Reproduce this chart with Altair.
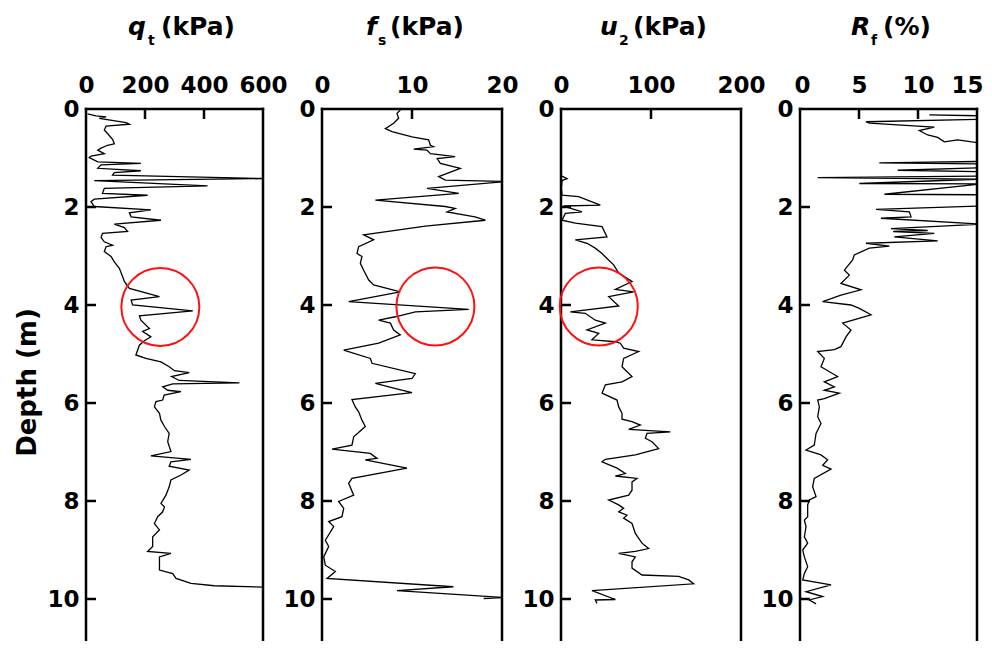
import altair as alt
import pandas as pd

FONT = "DejaVu Sans"
H = 532            # plot height (px)
PX_PER_M = 49.0
DMAX = H / PX_PER_M

# ---------------- data ----------------
qt_depth = [0.10, 0.14, 0.16, 0.19, 0.28, 0.31, 0.35, 0.43, 0.50, 0.62,
            0.71, 0.74, 0.80, 0.84, 0.91, 0.96, 0.99, 1.08, 1.11, 1.14,
            1.21, 1.26, 1.30, 1.35, 1.42, 1.46, 1.57, 1.62, 1.72, 1.76,
            1.84, 1.89, 1.99, 2.06, 2.12, 2.20, 2.27, 2.35, 2.42, 2.50,
            2.54, 2.62, 2.71, 2.78, 2.81, 2.91, 3.01, 3.12, 3.25, 3.42,
            3.52, 3.66, 3.83, 3.90, 4.00, 4.12, 4.22, 4.31, 4.48, 4.54,
            4.65, 4.73, 4.82, 5.02, 5.09, 5.16, 5.26, 5.34, 5.38, 5.46,
            5.54, 5.59, 5.61, 5.67, 5.74, 5.77, 5.84, 5.94, 5.97, 6.08,
            6.21, 6.35, 6.48, 6.62, 6.79, 6.99, 7.08, 7.15, 7.20, 7.29,
            7.37, 7.47, 7.57, 7.71, 7.88, 8.05, 8.12, 8.22, 8.32, 8.46,
            8.59, 8.73, 8.93, 9.03, 9.07, 9.14, 9.41, 9.48, 9.58, 9.68,
            9.73, 9.76]
qt_value = [5, 34, 68, 45, 136, 147, 68, 62, 73, 90,
            96, 73, 51, 40, 62, 17, 11, 40, 186, 51,
            40, 186, 96, 90, 615, 28, 412, 62, 56, 209,
            28, 17, 28, 220, 147, 153, 254, 96, 130, 141,
            56, 51, 62, 90, 68, 62, 85, 96, 113, 124,
            130, 147, 249, 153, 158, 362, 181, 186, 215, 192,
            220, 198, 181, 169, 203, 254, 282, 300, 350, 290,
            316, 520, 294, 260, 277, 322, 265, 260, 237, 232,
            249, 254, 266, 282, 277, 288, 220, 356, 288, 282,
            350, 322, 288, 282, 271, 254, 266, 260, 243, 232,
            249, 226, 226, 209, 288, 249, 249, 294, 305, 356,
            435, 610]

fs_depth = [0.02, 0.09, 0.19, 0.29, 0.40, 0.46, 0.57, 0.63, 0.74, 0.77,
            0.82, 0.84, 0.91, 0.97, 1.01, 1.11, 1.21, 1.38, 1.45, 1.48,
            1.62, 1.72, 1.86, 1.99, 2.03, 2.10, 2.20, 2.27, 2.39, 2.57,
            2.67, 2.81, 2.95, 3.01, 3.15, 3.29, 3.49, 3.59, 3.73, 3.93,
            4.09, 4.14, 4.24, 4.31, 4.37, 4.51, 4.61, 4.78, 4.92, 5.09,
            5.19, 5.40, 5.50, 5.60, 5.72, 5.79, 5.93, 6.08, 6.18, 6.35,
            6.48, 6.69, 6.86, 6.94, 7.03, 7.13, 7.16, 7.33, 7.54, 7.64,
            7.88, 8.01, 8.15, 8.32, 8.42, 8.52, 8.80, 8.93, 9.14, 9.31,
            9.44, 9.58, 9.75, 9.83, 9.97, 9.99]
fs_value = [8.7, 8.33, 8.52, 7.96, 7.04, 7.78, 10.0, 11.85, 12.04, 12.4,
            10.19, 11.67, 12.04, 14.8, 12.8, 13.15, 15.37, 12.96, 13.7, 20.4,
            11.67, 15.2, 5.93, 13.7, 14.8, 13.9, 17.0, 18.15, 11.48, 4.63,
            5.74, 4.07, 3.89, 4.44, 4.26, 4.63, 5.19, 5.74, 8.7, 2.96,
            16.3, 10.37, 8.15, 6.3, 7.6, 7.96, 8.7, 6.3, 2.41, 5.37,
            5.56, 10.37, 10.0, 5.93, 8.52, 10.0, 3.33, 3.7, 4.07, 4.44,
            4.81, 3.52, 3.33, 1.11, 5.37, 6.11, 4.81, 9.44, 3.33, 2.96,
            3.52, 1.85, 2.41, 2.22, 0.74, 1.3, 0.37, 0.74, 0.19, 0.37,
            1.48, 0.56, 14.6, 8.33, 20.4, 17.96]

u2_depth = [1.37, 1.42, 1.46, 1.62, 1.76, 1.79, 1.96, 1.98, 2.10, 2.13,
            2.27, 2.33, 2.40, 2.61, 2.67, 2.74, 2.84, 2.95, 3.05, 3.18,
            3.35, 3.52, 3.68, 3.73, 3.83, 4.02, 4.14, 4.17, 4.31, 4.37,
            4.51, 4.58, 4.71, 4.75, 4.78, 4.88, 4.95, 5.09, 5.26, 5.46,
            5.57, 5.63, 5.80, 5.94, 6.08, 6.21, 6.33, 6.38, 6.45, 6.54,
            6.59, 6.62, 6.72, 6.79, 6.93, 7.06, 7.15, 7.20, 7.33, 7.44,
            7.49, 7.54, 7.61, 7.78, 7.88, 7.98, 8.08, 8.15, 8.22, 8.29,
            8.35, 8.46, 8.66, 8.86, 8.97, 9.03, 9.07, 9.14, 9.24, 9.37,
            9.51, 9.54, 9.61, 9.69, 9.83, 10.01, 10.02, 10.09]
u2_value = [1.1, 6.7, 1.1, 0.4, 1.1, 19.6, 43.7, 3.0, 23.3, 4.8,
            1.1, 15.9, 45.6, 51.1, 15.9, 28.9, 38.1, 45.6, 51.1, 58.5,
            64.1, 78.9, 60.4, 80.7, 53.0, 64.1, 10.4, 27.0, 38.1, 49.3,
            28.9, 41.9, 34.4, 60.4, 65.9, 69.6, 86.3, 69.6, 67.8, 78.9,
            67.8, 49.3, 45.6, 62.2, 64.1, 67.8, 67.8, 78.9, 88.1, 75.2,
            121.5, 95.6, 93.7, 101.1, 108.5, 82.6, 49.3, 45.6, 62.2, 71.5,
            60.4, 84.4, 78.9, 78.9, 75.2, 53.0, 64.1, 69.6, 64.1, 73.3,
            69.6, 78.9, 82.6, 90.0, 97.4, 82.6, 64.1, 82.6, 78.9, 78.9,
            90.0, 130.7, 141.9, 147.4, 34.4, 60.4, 38.1, 40.0]

rf_depth = [0.12, 0.14, 0.21, 0.26, 0.29, 0.35, 0.37, 0.44, 0.53, 0.58,
            0.67, 0.63, 0.70, 0.90, 1.07, 1.10, 1.12, 1.20, 1.25, 1.28,
            1.37, 1.40, 1.43, 1.52, 1.53, 1.74, 1.75, 1.98, 2.05, 2.10,
            2.20, 2.23, 2.35, 2.44, 2.48, 2.50, 2.54, 2.61, 2.69, 2.74,
            2.80, 2.84, 2.98, 3.08, 3.29, 3.39, 3.56, 3.69, 3.80, 3.93,
            4.00, 4.07, 4.20, 4.37, 4.51, 4.65, 4.85, 4.91, 4.95, 5.09,
            5.26, 5.46, 5.57, 5.67, 5.74, 5.80, 5.91, 5.94, 6.08, 6.28,
            6.42, 6.62, 6.86, 6.96, 7.06, 7.16, 7.27, 7.35, 7.54, 7.71,
            7.91, 7.98, 8.08, 8.32, 8.39, 8.52, 8.73, 8.86, 9.00, 9.14,
            9.34, 9.48, 9.61, 9.71, 9.85, 9.95, 10.02, 10.10]
rf_value = [10.96, 15.4, 15.4, 5.59, 5.87, 9.97, 11.38, 10.11, 10.82, 11.67,
            12.23, 13.36, 15.4, 15.4, 15.4, 6.72, 15.4, 15.4, 8.28, 15.4,
            15.4, 1.5, 15.4, 5.03, 15.4, 7.15, 15.4, 15.4, 6.44, 9.27,
            9.41, 6.86, 15.4, 7.71, 10.82, 7.9, 11.38, 7.99, 11.67, 5.59,
            7.57, 5.87, 4.6, 4.46, 3.76, 4.18, 3.47, 5.17, 3.47, 1.92,
            4.32, 5.03, 6.02, 3.62, 4.32, 3.9, 3.47, 2.91, 1.5, 2.06,
            1.78, 3.19, 2.06, 2.91, 2.06, 3.33, 2.06, 1.5, 1.64, 1.5,
            1.78, 1.36, 1.21, 0.51, 1.78, 2.34, 1.92, 2.63, 1.21, 1.07,
            1.36, 0.79, 0.65, 0.65, 0.37, 0.51, 0.37, 0.65, 0.23, 0.37,
            0.65, 0.37, 0.23, 2.63, 0.51, 1.92, 0.79, 1.36]

# red circles (centre value, centre depth) for panels 1-3
circle_value = [252, 12.6, 42.0]
circle_depth = [4.04, 4.03, 4.03]

depth_ticks = [0, 2, 4, 6, 8, 10]
inner_depth_ticks = [2, 4, 6, 8, 10]


def panel(depth, value, xmax, xlabels, inner_x, title_parts, width,
          circle=None, first=False, flush=False):
    df = pd.DataFrame({"depth": depth, "value": value, "i": list(range(len(depth)))})
    xs = alt.Scale(domain=[0, xmax], nice=False, zero=False)
    ys = alt.Scale(domain=[0, DMAX], nice=False, zero=False, reverse=True)

    xkw = dict(orient="top", values=xlabels, title=None, domain=False, ticks=False,
               grid=False, labelFont=FONT, labelFontSize=23, labelFontWeight="bold",
               labelColor="black", labelPadding=17, labelBaseline="alphabetic",
               labelFlush=flush)
    if flush:
        xkw["labelFlushOffset"] = 6
    x_axis = alt.Axis(**xkw)

    ykw = dict(values=depth_ticks, domain=False, ticks=False, grid=False,
               labelFont=FONT, labelFontSize=23, labelFontWeight="bold",
               labelColor="black", labelPadding=7, labelFlush=False)
    if first:
        ykw.update(title="Depth (m)", titleFont=FONT, titleFontSize=26,
                   titleFontWeight="bold", titleColor="black", titlePadding=6,
                   titleY=273)
    else:
        ykw["title"] = None
    y_axis = alt.Axis(**ykw)

    X = alt.X("value:Q", scale=xs, axis=x_axis)
    Y = alt.Y("depth:Q", scale=ys, axis=y_axis)

    line = alt.Chart(df).mark_line(color="black", strokeWidth=1.3, clip=True).encode(
        x=X, y=Y, order=alt.Order("i:Q"))

    one = pd.DataFrame({"k": [0]})
    left = alt.Chart(one).mark_rule(color="black", strokeWidth=2.5).encode(
        x=alt.value(0), y=alt.value(-1.2), y2=alt.value(H))
    right = alt.Chart(one).mark_rule(color="black", strokeWidth=2.5).encode(
        x=alt.value(width), y=alt.value(-1.2), y2=alt.value(H))
    top = alt.Chart(one).mark_rule(color="black", strokeWidth=2.5).encode(
        x=alt.value(-1.2), x2=alt.value(width + 1.2), y=alt.value(0))

    xt = alt.Chart(pd.DataFrame({"value": inner_x})).mark_rule(
        color="black", strokeWidth=2.5).encode(x=X, y=alt.value(0), y2=alt.value(10))
    yt = alt.Chart(pd.DataFrame({"depth": inner_depth_ticks})).mark_rule(
        color="black", strokeWidth=2.5).encode(y=Y, x=alt.value(0), x2=alt.value(10))

    layers = [line, xt, yt, left, right, top]

    if circle is not None:
        cdf = pd.DataFrame({"value": [circle[0]], "depth": [circle[1]]})
        layers.append(alt.Chart(cdf).mark_point(
            shape="circle", size=6084, filled=False, color="#ff1010",
            strokeWidth=2, opacity=1).encode(x=X, y=Y))

    for txt, px, py, size, italic in title_parts:
        kw = dict(align="left", baseline="alphabetic", font=FONT, fontSize=size,
                  fontWeight="bold", color="black")
        if italic:
            kw["fontStyle"] = "italic"
        layers.append(alt.Chart(one).mark_text(**kw).encode(
            x=alt.value(px), y=alt.value(py), text=alt.value(txt)))

    return alt.layer(*layers).properties(width=width, height=H)


p1 = panel(qt_depth, qt_value, 600, [0, 200, 400, 600], [200, 400],
           [("q", 42, -74, 25, True), ("t", 62, -64, 14, False), ("(kPa)", 75, -74, 25, False)],
           177, circle=(circle_value[0], circle_depth[0]), first=True)
p2 = panel(fs_depth, fs_value, 20, [0, 10, 20], [10],
           [("f", 44, -74, 25, True), ("s", 56, -64, 14, False), ("(kPa)", 68, -74, 25, False)],
           180, circle=(circle_value[1], circle_depth[1]))
p3 = panel(u2_depth, u2_value, 200, [0, 100, 200], [100],
           [("u", 39, -74, 25, True), ("2", 58, -64, 14, False), ("(kPa)", 72, -74, 25, False)],
           180, circle=(circle_value[2], circle_depth[2]))
p4 = panel(rf_depth, rf_value, 15, [0, 5, 10, 15], [5, 10],
           [("R", 51, -74, 25, True), ("f", 71, -64, 14, False), ("(%)", 83, -74, 25, False)],
           177, flush=True)

chart = alt.hconcat(p1, p2, p3, p4, spacing=59, bounds="flush").properties(
    padding={"left": 6, "top": 7, "right": 0, "bottom": 0},
    background="white",
).configure_view(stroke=None)

chart.save("out.html", embed_options={"renderer": "svg", "actions": False})
